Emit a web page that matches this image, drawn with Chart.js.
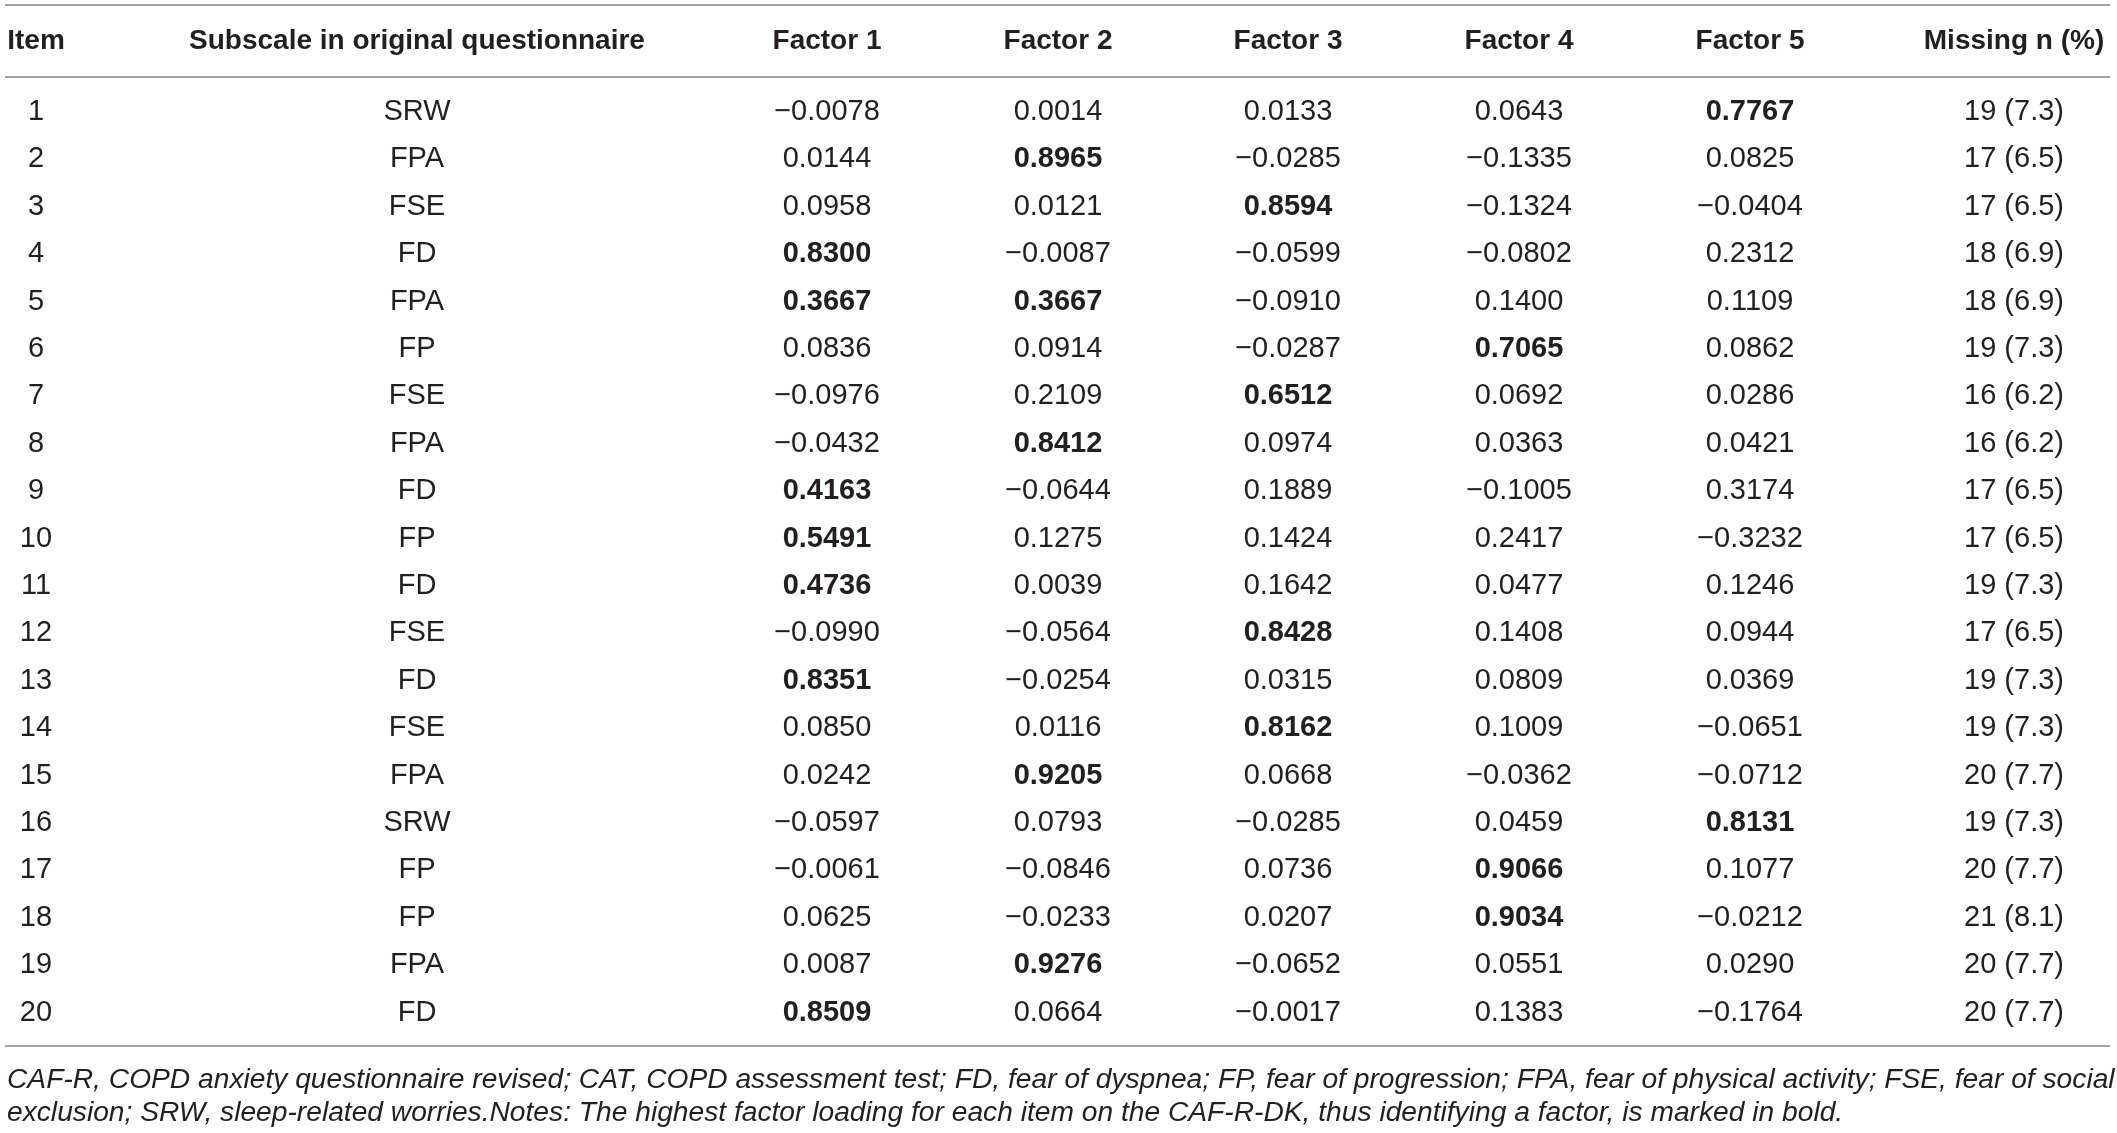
<!DOCTYPE html>
<html>
<head>
<meta charset="utf-8">
<script src="https://cdn.jsdelivr.net/npm/chart.js@4.4.1/dist/chart.umd.min.js"></script>
<style>
html,body{margin:0;padding:0;background:#ffffff;}
#wrap{width:2117px;height:1133px;position:relative;}
</style>
</head>
<body>
<div id="wrap"><canvas id="c"></canvas></div>
<script>
// ---------- DATA ----------
const headers = ["Item", "Subscale in original questionnaire", "Factor 1", "Factor 2", "Factor 3", "Factor 4", "Factor 5", "Missing n (%)"];
const items = [1, 2, 3, 4, 5, 6, 7, 8, 9, 10, 11, 12, 13, 14, 15, 16, 17, 18, 19, 20];
const subscales = ["SRW", "FPA", "FSE", "FD", "FPA", "FP", "FSE", "FPA", "FD", "FP", "FD", "FSE", "FD", "FSE", "FPA", "SRW", "FP", "FP", "FPA", "FD"];
const factor1 = [-0.0078, 0.0144, 0.0958, 0.8300, 0.3667, 0.0836, -0.0976, -0.0432, 0.4163, 0.5491, 0.4736, -0.0990, 0.8351, 0.0850, 0.0242, -0.0597, -0.0061, 0.0625, 0.0087, 0.8509];
const factor2 = [0.0014, 0.8965, 0.0121, -0.0087, 0.3667, 0.0914, 0.2109, 0.8412, -0.0644, 0.1275, 0.0039, -0.0564, -0.0254, 0.0116, 0.9205, 0.0793, -0.0846, -0.0233, 0.9276, 0.0664];
const factor3 = [0.0133, -0.0285, 0.8594, -0.0599, -0.0910, -0.0287, 0.6512, 0.0974, 0.1889, 0.1424, 0.1642, 0.8428, 0.0315, 0.8162, 0.0668, -0.0285, 0.0736, 0.0207, -0.0652, -0.0017];
const factor4 = [0.0643, -0.1335, -0.1324, -0.0802, 0.1400, 0.7065, 0.0692, 0.0363, -0.1005, 0.2417, 0.0477, 0.1408, 0.0809, 0.1009, -0.0362, 0.0459, 0.9066, 0.9034, 0.0551, 0.1383];
const factor5 = [0.7767, 0.0825, -0.0404, 0.2312, 0.1109, 0.0862, 0.0286, 0.0421, 0.3174, -0.3232, 0.1246, 0.0944, 0.0369, -0.0651, -0.0712, 0.8131, 0.1077, -0.0212, 0.0290, -0.1764];
const missingN = [19, 17, 17, 18, 18, 19, 16, 16, 17, 17, 19, 17, 19, 19, 20, 19, 20, 21, 20, 20];
const missingPct = [7.3, 6.5, 6.5, 6.9, 6.9, 7.3, 6.2, 6.2, 6.5, 6.5, 7.3, 6.5, 7.3, 7.3, 7.7, 7.3, 7.7, 8.1, 7.7, 7.7];
const footnotes = [
  "CAF-R, COPD anxiety questionnaire revised; CAT, COPD assessment test; FD, fear of dyspnea; FP, fear of progression; FPA, fear of physical activity; FSE, fear of social",
  "exclusion; SRW, sleep-related worries.Notes: The highest factor loading for each item on the CAF-R-DK, thus identifying a factor, is marked in bold."
];

// ---------- LAYOUT / STYLE ----------
const COL_X = [36, 417, 827, 1058, 1288, 1519, 1750, 2014];   // column centres in table units
const X_MIN = 5, X_MAX = 2110;
const HEADER_ROW = -0.5;
const RULE_ROWS = [-1.25, 0.26, 20.7];
const FOOT_ROWS = [21.42, 22.12];
const FOOT_X = 7;
const Y_MIN = -1.363, Y_MAX = 22.54;
const FONT = "'Liberation Sans', Arial, Helvetica, sans-serif";
const TEXT_COLOR = "#231f20";
const RULE_COLOR = "#a3a3a3";

// ---------- BUILD ----------
const factors = [factor1, factor2, factor3, factor4, factor5];
const fmt = v => (v < 0 ? "\u2212" : "") + Math.abs(v).toFixed(4);
const rowMax = items.map((_, i) => Math.max(...factors.map(f => f[i])));

const columnTexts = [
  items.map(String),
  subscales,
  ...factors.map(f => f.map(fmt)),
  missingN.map((n, i) => n + " (" + missingPct[i].toFixed(1) + ")")
];
const columnBold = [
  items.map(() => false),
  subscales.map(() => false),
  ...factors.map(f => f.map((v, i) => v === rowMax[i])),
  missingN.map(() => false)
];

const datasets = columnTexts.map((texts, c) => ({
  label: headers[c],
  data: texts.map((t, i) => ({ x: COL_X[c], y: items[i] })),
  texts: texts,
  bold: columnBold[c],
  pointRadius: 0, pointHoverRadius: 0, showLine: false
}));
datasets.push({
  label: "header",
  data: headers.map((h, c) => ({ x: COL_X[c], y: HEADER_ROW })),
  texts: headers,
  bold: headers.map(() => true),
  isHeader: true,
  pointRadius: 0, pointHoverRadius: 0, showLine: false
});

const tableText = {
  id: "tableText",
  afterDatasetsDraw(chart) {
    const ctx = chart.ctx;
    ctx.save();
    ctx.fillStyle = TEXT_COLOR;
    ctx.textBaseline = "middle";
    ctx.textAlign = "center";
    chart.data.datasets.forEach((ds, d) => {
      const meta = chart.getDatasetMeta(d);
      meta.data.forEach((el, i) => {
        const size = ds.isHeader ? 28 : 29;
        ctx.font = (ds.bold[i] ? "bold " : "") + size + "px " + FONT;
        ctx.fillText(ds.texts[i], el.x, el.y);
      });
    });
    const xs = chart.scales.x, ys = chart.scales.y;
    ctx.textAlign = "left";
    ctx.font = "italic 28.2px " + FONT;
    footnotes.forEach((t, k) => {
      ctx.fillText(t, xs.getPixelForValue(FOOT_X), ys.getPixelForValue(FOOT_ROWS[k]));
    });
    ctx.restore();
  }
};

new Chart(document.getElementById("c"), {
  type: "scatter",
  data: { datasets },
  plugins: [tableText],
  options: {
    responsive: true,
    maintainAspectRatio: false,
    devicePixelRatio: 1,
    animation: false,
    events: [],
    layout: { padding: { left: X_MIN, right: 2117 - X_MAX, top: 0, bottom: 0 } },
    plugins: { legend: { display: false }, tooltip: { enabled: false }, title: { display: false } },
    scales: {
      x: { type: "linear", min: X_MIN, max: X_MAX, display: false },
      y: {
        type: "linear", min: Y_MIN, max: Y_MAX, reverse: true, display: true,
        afterBuildTicks: s => { s.ticks = RULE_ROWS.map(v => ({ value: v })); },
        afterFit: s => { s.width = 0; },
        ticks: { display: false },
        border: { display: false },
        grid: { color: RULE_COLOR, lineWidth: 2, drawTicks: false, tickLength: 0 }
      }
    }
  }
});
</script>
</body>
</html>
